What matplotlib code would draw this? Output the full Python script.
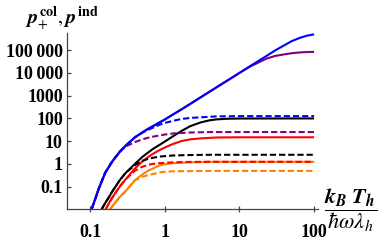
import matplotlib.pyplot as plt
from matplotlib.ticker import FixedLocator, NullLocator

plt.rcParams['mathtext.fontset'] = 'stix'
plt.rcParams['font.family'] = ['Liberation Serif', 'DejaVu Serif']

# temperature grid (k_B T_h / hbar omega lambda_h)
T_blue = [0.105, 0.12, 0.13, 0.16, 0.2, 0.25, 0.3, 0.4, 0.5, 0.6, 0.7, 0.85,
          1, 1.3, 1.7, 2.2, 3, 5, 10, 14, 18, 23, 30, 40, 50, 65, 80, 100]
p_blue = [0.01, 0.035, 0.076, 0.41, 1.32, 3.4, 6.3, 14.8, 24, 35, 46, 66,
          89, 151, 257, 437, 832, 2400, 10000, 20400, 33900, 56000, 97700,
          166000, 251000, 355000, 437000, 501000]

T_purple = [0.105, 0.12, 0.13, 0.16, 0.2, 0.25, 0.3, 0.4, 0.5, 0.6, 0.7,
            0.85, 1, 1.3, 1.7, 2.2, 3, 5, 10, 14, 18, 23, 30, 40, 50, 65,
            80, 100]
p_purple = [0.01, 0.035, 0.076, 0.41, 1.32, 3.4, 6.3, 14.8, 24, 35, 46, 66,
            89, 151, 257, 437, 832, 2400, 10000, 19500, 28800, 42700, 56200,
            66100, 74100, 80400, 83200, 85100]

T_blue_d = [0.105, 0.12, 0.13, 0.16, 0.2, 0.25, 0.3, 0.4, 0.5, 0.6, 0.7,
            0.85, 1, 1.3, 1.7, 2.2, 3, 5, 10, 100]
p_blue_d = [0.01, 0.035, 0.076, 0.41, 1.32, 3.4, 6.3, 14.8, 23.4, 31.6,
            39.8, 52.5, 63, 79, 95, 105, 112, 123, 126, 126]

T_purple_d = [0.105, 0.12, 0.13, 0.16, 0.2, 0.25, 0.3, 0.4, 0.5, 0.6, 0.7,
              0.85, 1, 1.3, 2.2, 4, 100]
p_purple_d = [0.01, 0.035, 0.076, 0.41, 1.32, 3.4, 5.8, 9.1, 12, 14.1,
              15.8, 17.8, 19.5, 21.9, 24, 25.1, 25.1]

T_black = [0.143, 0.16, 0.18, 0.2, 0.25, 0.3, 0.4, 0.5, 0.6, 0.7, 0.85, 1,
           1.3, 1.7, 2.2, 3, 4, 5, 7, 10, 100]
p_black = [0.01, 0.019, 0.035, 0.063, 0.19, 0.4, 1.0, 2.0, 3.16, 4.6, 6.8,
           9.5, 16.6, 28.8, 45.7, 66, 83, 91, 97, 99, 100]

T_black_d = [0.143, 0.16, 0.18, 0.2, 0.25, 0.3, 0.4, 0.5, 0.6, 0.7, 0.85, 1,
             1.3, 2.2, 4, 100]
p_black_d = [0.01, 0.019, 0.035, 0.063, 0.19, 0.4, 0.89, 1.35, 1.66, 1.86,
             2.09, 2.19, 2.34, 2.45, 2.51, 2.51]

T_red = [0.162, 0.18, 0.2, 0.25, 0.3, 0.4, 0.5, 0.6, 0.7, 0.85, 1, 1.3, 1.7,
         2.2, 3, 5, 10, 100]
p_red = [0.01, 0.019, 0.034, 0.10, 0.21, 0.63, 1.26, 2.0, 2.8, 4.0, 5.2, 7.6,
         10.2, 12, 13.2, 14.5, 14.8, 14.8]

T_red_d = [0.162, 0.18, 0.2, 0.25, 0.3, 0.4, 0.5, 0.6, 0.7, 0.85, 1.3, 2.2,
           4, 100]
p_red_d = [0.01, 0.019, 0.034, 0.10, 0.21, 0.5, 0.74, 0.91, 1.0, 1.07, 1.17,
           1.22, 1.23, 1.23]

T_orange = [0.186, 0.2, 0.25, 0.3, 0.4, 0.5, 0.6, 0.7, 0.85, 1, 1.3, 2.2, 4,
            100]
p_orange = [0.01, 0.014, 0.035, 0.063, 0.19, 0.34, 0.5, 0.63, 0.85, 0.95,
            1.07, 1.17, 1.23, 1.23]

T_orange_d = [0.186, 0.2, 0.25, 0.3, 0.4, 0.5, 0.6, 0.7, 0.85, 1, 1.3, 2.2,
              4, 100]
p_orange_d = [0.01, 0.014, 0.035, 0.063, 0.19, 0.27, 0.32, 0.36, 0.42, 0.45,
              0.47, 0.48, 0.49, 0.49]

x_ticks = [0.1, 1, 10, 100]
x_labels = ['0.1', '1', '10', '100']
y_ticks = [0.1, 1, 10, 100, 1000, 10000, 100000]
y_labels = ['0.1', '1', '10', '100', '1000', '10\u2009000', '100\u2009000']

BLUE = '#0000ff'
PURPLE = '#800080'
BLACK = '#000000'
RED = '#ff0000'
ORANGE = '#ff8000'
DASH = (3, 1.4)

fig = plt.figure(figsize=(3.82, 2.45), dpi=100)
ax = fig.add_axes([0.1754, 0.1457, 0.657, 0.7196])

curves = [
    (T_orange_d, p_orange_d, ORANGE, True),
    (T_orange, p_orange, ORANGE, False),
    (T_red_d, p_red_d, RED, True),
    (T_red, p_red, RED, False),
    (T_black_d, p_black_d, BLACK, True),
    (T_black, p_black, BLACK, False),
    (T_purple_d, p_purple_d, PURPLE, True),
    (T_purple, p_purple, PURPLE, False),
    (T_blue_d, p_blue_d, BLUE, True),
    (T_blue, p_blue, BLUE, False),
]
for T, p, color, dashed in curves:
    line, = ax.plot(T, p, color=color, lw=1.5, solid_capstyle='butt')
    if dashed:
        line.set_dashes(DASH)

ax.set_xscale('log')
ax.set_yscale('log')
ax.set_xlim(0.0492, 112.7)
ax.set_ylim(0.01, 575000)

ax.xaxis.set_major_locator(FixedLocator(x_ticks))
ax.yaxis.set_major_locator(FixedLocator(y_ticks))
ax.xaxis.set_minor_locator(NullLocator())
ax.yaxis.set_minor_locator(NullLocator())
ax.set_xticklabels(x_labels)
ax.set_yticklabels(y_labels)

for side in ['top', 'right']:
    ax.spines[side].set_visible(False)
for side in ['left', 'bottom']:
    ax.spines[side].set_color('#444444')
    ax.spines[side].set_linewidth(0.9)

ax.tick_params(axis='y', direction='in', length=3, width=0.9,
               color='#444444', pad=3, labelsize=13)
ax.tick_params(axis='x', direction='inout', length=5, width=0.9,
               color='#444444', pad=8, labelsize=13)
for lbl in ax.get_xticklabels() + ax.get_yticklabels():
    lbl.set_fontweight('bold')

# axis labels as in the original: ylabel at the top, xlabel at the right
fig.text(25 / 382, 1 - 24 / 245,
         r'$\mathbfit{p}_{+}^{\,\mathbf{col}},\mathbfit{p}^{\,\mathbf{ind}}$',
         fontsize=14.5, ha='left', va='baseline')
fig.text(351 / 382, 1 - 210 / 245,
         r'$\dfrac{\mathbfit{k}_{\mathbfit{B}}\;\mathbfit{T}_{\mathbfit{h}}}'
         r'{\hbar\omega\lambda_{h}}$',
         fontsize=16, ha='center', va='center')

fig.savefig('out.png', dpi=100)
